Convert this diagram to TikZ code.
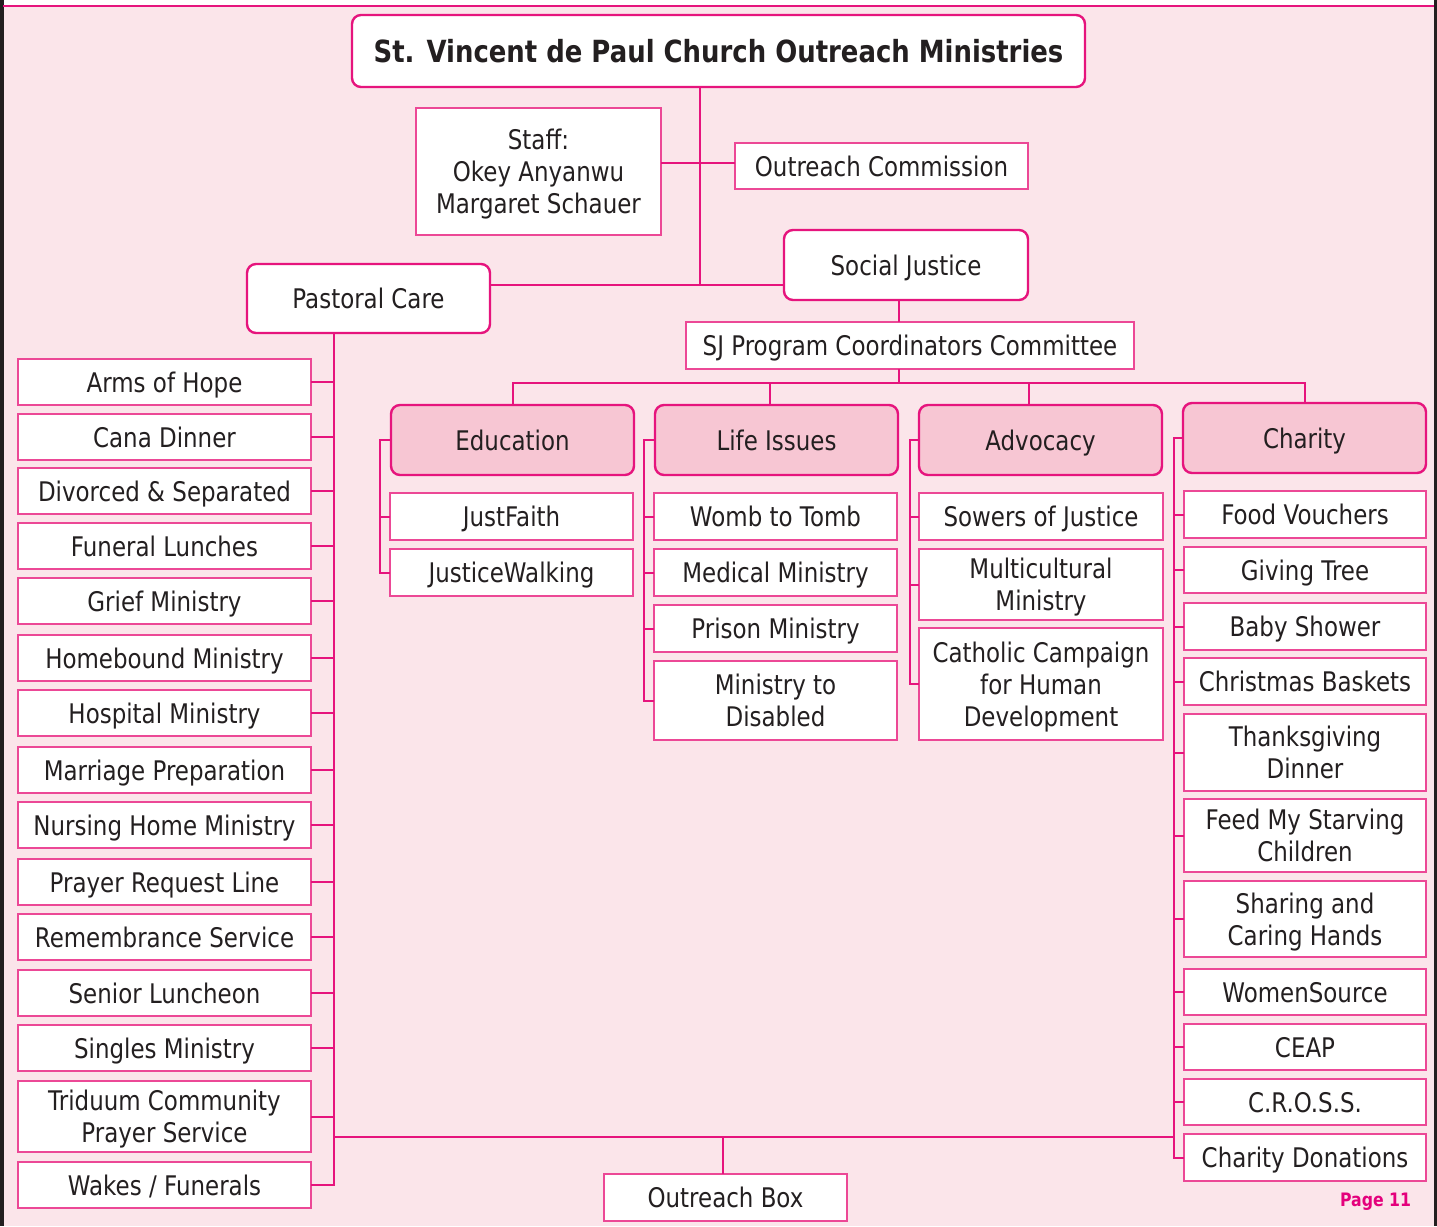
\documentclass[tikz,border=0pt]{standalone}
\usepackage{fontspec}
\setmainfont{DejaVu Sans}[FakeStretch=0.85]
\definecolor{mag}{RGB}{230,20,125}
\definecolor{leafb}{RGB}{236,72,150}
\definecolor{bgpink}{RGB}{251,229,234}
\definecolor{catfill}{RGB}{247,198,211}
\definecolor{txt}{RGB}{35,31,32}
\definecolor{pagec}{RGB}{228,0,124}
\newcommand\mybox[7]{\node[#1, minimum width={(#5)-(#3)}, minimum height={(#6)-(#4)}] (#2) at ({((#3)+(#5))/2},{((#4)+(#6))/2}) {#7};}
\begin{document}
\begin{tikzpicture}[x=1pt,y=-1pt,
  every node/.style={inner sep=0pt, outer sep=0pt, text=txt, font=\fontsize{27}{32}\selectfont, align=center},
  hdr/.style={draw=mag, line width=2.4pt, rounded corners=9pt, fill=white, text depth=0pt},
  cat/.style={draw=mag, line width=2.4pt, rounded corners=9pt, fill=catfill, text depth=0pt},
  leaf/.style={draw=leafb, line width=1.5pt, fill=white, text depth=0pt},
  conn/.style={draw=mag, line width=2pt}]
\useasboundingbox (0,0) rectangle (1437,1226);
\fill[white] (0,0) rectangle (1437,1226);
\fill[bgpink] (3,6) rectangle (1434,1226);
\fill[txt] (0,0) rectangle (3.5,1226);
\fill[txt] (1433.5,0) rectangle (1437,1226);
\draw[mag, line width=2.6pt] (3,6) -- (1434,6);

% top level
\mybox{hdr}{title}{352}{15}{1085}{87}{\fontsize{30.5}{34}\selectfont\bfseries St. Vincent de Paul Church Outreach Ministries}
\mybox{leaf}{staff}{416}{108}{661}{235}{Staff:\\Okey Anyanwu\\Margaret Schauer}
\mybox{leaf}{oc}{735}{143}{1028}{189}{Outreach Commission}
\mybox{hdr}{social}{784}{230}{1028}{300}{Social Justice}
\mybox{hdr}{pastoral}{247}{264}{490}{333}{Pastoral Care}
\mybox{leaf}{sjpc}{686}{322}{1134}{369}{SJ Program Coordinators Committee}

% categories
\mybox{cat}{edu}{391}{405}{634}{475}{Education}
\mybox{cat}{life}{655}{405}{898}{475}{Life Issues}
\mybox{cat}{adv}{919}{405}{1162}{475}{Advocacy}
\mybox{cat}{cha}{1183}{403}{1426}{473}{Charity}

% education
\mybox{leaf}{e1}{390}{493}{633}{540}{JustFaith}
\mybox{leaf}{e2}{390}{549}{633}{596}{JusticeWalking}
% life issues
\mybox{leaf}{l1}{654}{493}{897}{540}{Womb to Tomb}
\mybox{leaf}{l2}{654}{549}{897}{596}{Medical Ministry}
\mybox{leaf}{l3}{654}{605}{897}{652}{Prison Ministry}
\mybox{leaf}{l4}{654}{661}{897}{740}{Ministry to\\Disabled}
% advocacy
\mybox{leaf}{a1}{919}{493}{1163}{540}{Sowers of Justice}
\mybox{leaf}{a2}{919}{549}{1163}{620}{Multicultural\\Ministry}
\mybox{leaf}{a3}{919}{628}{1163}{740}{Catholic Campaign\\for Human\\Development}
% charity
\mybox{leaf}{c1}{1184}{491}{1426}{538}{Food Vouchers}
\mybox{leaf}{c2}{1184}{547}{1426}{593}{Giving Tree}
\mybox{leaf}{c3}{1184}{603}{1426}{650}{Baby Shower}
\mybox{leaf}{c4}{1184}{658}{1426}{705}{Christmas Baskets}
\mybox{leaf}{c5}{1184}{714}{1426}{791}{Thanksgiving\\Dinner}
\mybox{leaf}{c6}{1184}{799}{1426}{872}{Feed My Starving\\Children}
\mybox{leaf}{c7}{1184}{881}{1426}{957}{Sharing and\\Caring Hands}
\mybox{leaf}{c8}{1184}{969}{1426}{1015}{WomenSource}
\mybox{leaf}{c9}{1184}{1024}{1426}{1070}{CEAP}
\mybox{leaf}{c10}{1184}{1079}{1426}{1125}{C.R.O.S.S.}
\mybox{leaf}{c11}{1184}{1134}{1426}{1181}{Charity Donations}
% pastoral care
\mybox{leaf}{p1}{18}{359}{311}{405}{Arms of Hope}
\mybox{leaf}{p2}{18}{414}{311}{460}{Cana Dinner}
\mybox{leaf}{p3}{18}{468}{311}{514}{Divorced \& Separated}
\mybox{leaf}{p4}{18}{523}{311}{569}{Funeral Lunches}
\mybox{leaf}{p5}{18}{578}{311}{624}{Grief Ministry}
\mybox{leaf}{p6}{18}{635}{311}{681}{Homebound Ministry}
\mybox{leaf}{p7}{18}{690}{311}{736}{Hospital Ministry}
\mybox{leaf}{p8}{18}{747}{311}{793}{Marriage Preparation}
\mybox{leaf}{p9}{18}{802}{311}{848}{Nursing Home Ministry}
\mybox{leaf}{p10}{18}{859}{311}{905}{Prayer Request Line}
\mybox{leaf}{p11}{18}{914}{311}{960}{Remembrance Service}
\mybox{leaf}{p12}{18}{970}{311}{1016}{Senior Luncheon}
\mybox{leaf}{p13}{18}{1025}{311}{1071}{Singles Ministry}
\mybox{leaf}{p14}{18}{1081}{311}{1152}{Triduum Community\\Prayer Service}
\mybox{leaf}{p15}{18}{1162}{311}{1208}{Wakes / Funerals}
% outreach box
\mybox{leaf}{obox}{604}{1174}{847}{1221}{Outreach Box}

\node[text=pagec, font=\fontsize{18.5}{20}\selectfont\bfseries, anchor=east] (page) at (1411,1202) {Page 11};

% junction coordinates
\coordinate (tj) at (700,285);
\coordinate (sj) at (700,163);
\coordinate (bus) at (899,383);
\coordinate (dl) at (770,0);
\coordinate (da) at (1029,0);
\coordinate (eb) at (380,0);
\coordinate (lb) at (644,0);
\coordinate (ab) at (910,0);
\coordinate (cb) at (1174,0);
\coordinate (pt) at (334,0);
\coordinate (ob) at (723,1137);

% connectors
\draw[conn] (title.south -| tj) -- (tj);
\draw[conn] (pastoral.east |- tj) -- (social.west |- tj);
\draw[conn] (staff.east |- sj) -- (oc.west |- sj);
\draw[conn] (social.south -| bus) -- (sjpc.north -| bus);
\draw[conn] (sjpc.south -| bus) -- (bus);
\draw[conn] (edu.north) |- (bus) -| (cha.north);
\draw[conn] (life.north -| dl) -- (bus -| dl);
\draw[conn] (adv.north -| da) -- (bus -| da);

\draw[conn] (edu.west) -- (edu.west -| eb) -- (e2.west -| eb) -- (e2.west);
\draw[conn] (e1.west -| eb) -- (e1.west);

\draw[conn] (life.west) -- (life.west -| lb) -- (l4.west -| lb) -- (l4.west);
\foreach \n in {l1,l2,l3} \draw[conn] (\n.west -| lb) -- (\n.west);

\draw[conn] (adv.west) -- (adv.west -| ab) -- (a3.west -| ab) -- (a3.west);
\foreach \n in {a1,a2} \draw[conn] (\n.west -| ab) -- (\n.west);

\draw[conn] (cha.west) -- (cha.west -| cb) -- (c11.west -| cb) -- (c11.west);
\foreach \n in {c1,c2,c3,c4,c5,c6,c7,c8,c9,c10} \draw[conn] (\n.west -| cb) -- (\n.west);

\draw[conn] (pastoral.south -| pt) -- (p15.east -| pt) -- (p15.east);
\foreach \n in {p1,p2,p3,p4,p5,p6,p7,p8,p9,p10,p11,p12,p13,p14} \draw[conn] (\n.east) -- (\n.east -| pt);

\draw[conn] (ob -| pt) -- (ob -| cb);
\draw[conn] (ob) -- (obox.north -| ob);
\end{tikzpicture}
\end{document}
